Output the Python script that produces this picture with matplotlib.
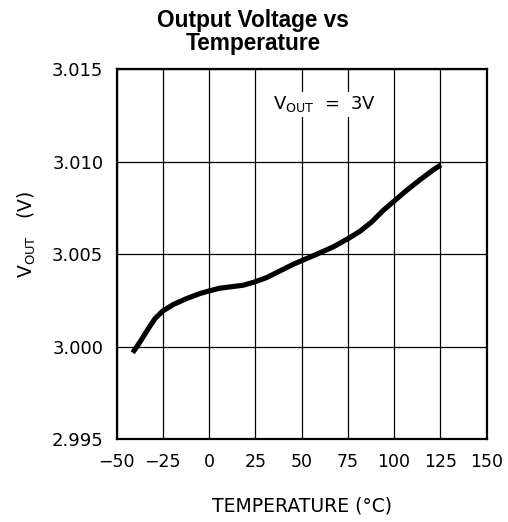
import matplotlib
matplotlib.use("Agg")
import matplotlib.pyplot as plt

plt.rcParams["font.family"] = ["DejaVu Sans"]
plt.rcParams["mathtext.fontset"] = "dejavusans"

temps = [-41.3, -37.3, -32.8, -29.2, -25.1, -19.3, -12.1, -4.9, 0.0, 5.9, 13.1, 18.5, 24.8,
         31.1, 38.3, 45.5, 52.7, 58.1, 67.1, 75.2, 81.5, 87.8, 94.1, 100.4, 106.7, 113.9, 121.1, 125.3]
vout = [2.99968, 3.00027, 3.00099, 3.00153, 3.00193, 3.00229, 3.00261, 3.00288, 3.00302, 3.00317,
        3.00326, 3.00333, 3.00351, 3.00374, 3.00410, 3.00446, 3.00477, 3.00500, 3.00540, 3.00585,
        3.00624, 3.00674, 3.00737, 3.00791, 3.00845, 3.00902, 3.00956, 3.00983]
xticks = [-50, -25, 0, 25, 50, 75, 100, 125, 150]
yticks = [2.995, 3.000, 3.005, 3.010, 3.015]

fig = plt.figure(figsize=(5.08, 5.22), dpi=100)
ax = fig.add_axes([116.6/508, 82.7/522, 370/508, 370/522])

ax.plot(temps, vout, color="black", lw=3.7, solid_capstyle="butt", solid_joinstyle="round", zorder=3)

ax.set_xlim(-50, 150)
ax.set_ylim(2.995, 3.015)
ax.set_xticks(xticks)
ax.set_yticks(yticks)
ax.set_xticklabels([str(t).replace("-", "\u2212") for t in xticks], fontsize=12.5)
ax.set_yticklabels([f"{v:.3f}" for v in yticks], fontsize=13)
ax.tick_params(length=0)
ax.tick_params(axis="x", pad=10)
ax.tick_params(axis="y", pad=9.5)
ax.grid(True, color="black", lw=0.9)
for s in ax.spines.values():
    s.set_linewidth(1.6)
    s.set_color("black")

ax.text(34.3, 3.0131, r"V$_{\mathregular{OUT}}$  =  3V", fontsize=13, va="center", ha="left",
        bbox=dict(facecolor="white", edgecolor="none", pad=2))

fig.text(302/508, 1 - 506/522, "TEMPERATURE (°C)", fontsize=13.5, ha="center", va="center")
fig.text(27/508, 1 - 235/522, r"V$_{\mathregular{OUT}}$   (V)", fontsize=13.5, ha="center", va="center", rotation=90)
fig.text(253/508, 1 - 50/522, "Output Voltage vs\nTemperature", fontsize=16.3, fontweight="bold",
         family="Liberation Sans", ha="center", va="baseline", linespacing=1.02)

fig.savefig("out.png", dpi=100)
